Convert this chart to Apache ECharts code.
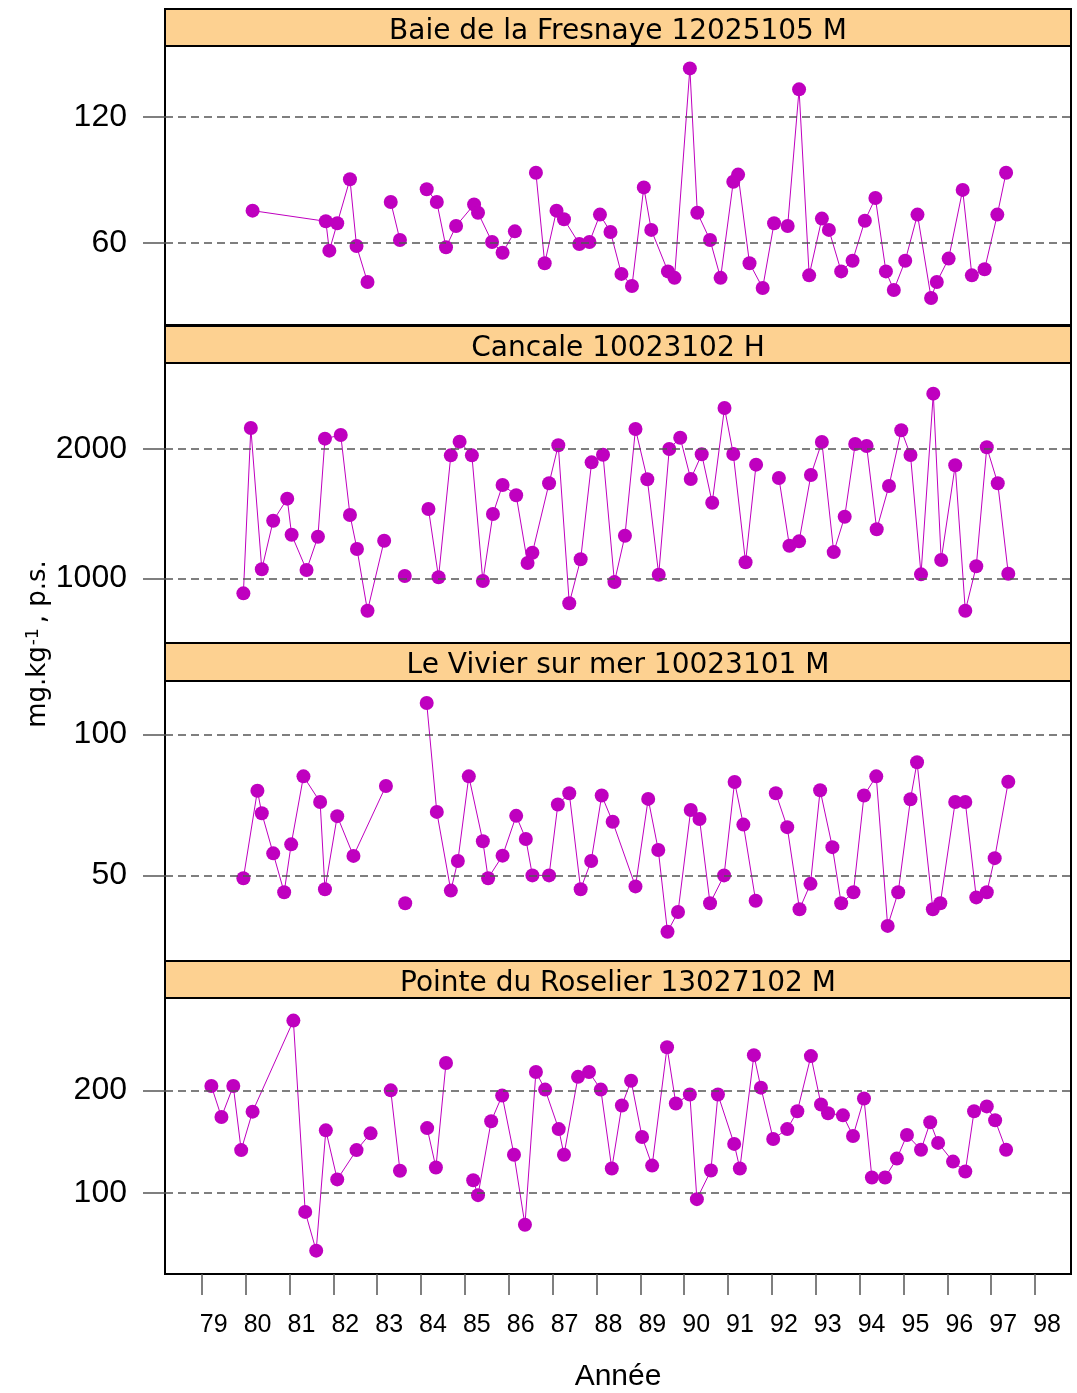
<!DOCTYPE html>
<html><head><meta charset="utf-8">
<script src="https://cdn.jsdelivr.net/npm/echarts@6/dist/echarts.min.js"></script>
<style>html,body{margin:0;padding:0;background:#fff}#c{width:1077px;height:1393px}</style>
</head><body><div id="c"></div>
<script>
// ---------------- data ----------------
const panelTitles = ['Baie de la Fresnaye 12025105 M', 'Cancale 10023102 H', 'Le Vivier sur mer 10023101 M', 'Pointe du Roselier 13027102 M'];
const xTickLabels = [79, 80, 81, 82, 83, 84, 85, 86, 87, 88, 89, 90, 91, 92, 93, 94, 95, 96, 97, 98];
const yTicks1 = [60, 120];
const yTicks2 = [1000, 2000];
const yTicks3 = [50, 100];
const yTicks4 = [100, 200];

// null = break in the series (missing sampling)
const years1 = [80.16, 81.83, 81.91, 82.09, 82.38, 82.53, 82.78, null, 83.31, 83.52, null, 84.13, 84.36, 84.57, 84.80, 85.21, 85.30, 85.62, 85.86, 86.14, null, 86.62, 86.82, 87.09, 87.26, 87.61, 87.84, 88.08, 88.32, 88.57, 88.81, 89.08, 89.25, 89.63, 89.78, 90.13, 90.30, 90.59, 90.83, 91.12, 91.23, 91.49, 91.79, 92.05, null, 92.36, 92.62, 92.85, 93.14, 93.30, 93.58, 93.84, 94.12, 94.36, 94.60, 94.78, 95.04, 95.32, 95.63, 95.76, 96.03, 96.35, 96.56, 96.85, 97.14, 97.34];
const values1 = [75.3, 70.2, 56.2, 69.3, 90.3, 58.4, 41.2, null, 79.4, 61.3, null, 85.5, 79.4, 57.8, 68.0, 78.2, 74.3, 60.3, 55.2, 65.4, null, 93.4, 50.2, 75.3, 71.2, 59.4, 60.3, 73.4, 65.1, 45.1, 39.3, 86.4, 66.1, 46.3, 43.2, 143.2, 74.3, 61.3, 43.2, 89.1, 92.5, 50.2, 38.4, 69.3, null, 68.0, 133.2, 44.4, 71.5, 66.1, 46.3, 51.4, 70.5, 81.3, 46.3, 37.4, 51.4, 73.4, 33.6, 41.2, 52.4, 85.2, 44.4, 47.3, 73.4, 93.4];

const years2 = [79.95, 80.12, 80.37, 80.63, 80.95, 81.05, 81.39, 81.65, 81.81, 82.17, 82.38, 82.54, 82.78, 83.16, null, 83.63, null, 84.17, 84.40, 84.68, 84.88, 85.16, 85.41, 85.64, 85.86, 86.17, 86.43, 86.54, 86.92, 87.13, 87.38, 87.64, 87.89, 88.15, 88.41, 88.65, 88.89, 89.16, 89.42, 89.66, 89.91, 90.15, 90.40, 90.64, 90.92, 91.12, 91.40, 91.64, null, 92.16, 92.40, 92.62, 92.89, 93.14, 93.41, 93.66, 93.90, 94.16, 94.39, 94.67, 94.95, 95.16, 95.40, 95.68, 95.86, 96.18, 96.41, 96.66, 96.90, 97.15, 97.39];
const values2 = [884, 2162, 1070, 1445, 1616, 1337, 1064, 1322, 2080, 2108, 1490, 1227, 749, 1291, null, 1018, null, 1536, 1008, 1951, 2057, 1951, 979, 1497, 1722, 1642, 1118, 1198, 1735, 2029, 807, 1147, 1897, 1956, 971, 1329, 2155, 1766, 1028, 2000, 2087, 1768, 1959, 1585, 2317, 1961, 1124, 1879, null, 1776, 1252, 1286, 1799, 2054, 1203, 1476, 2039, 2023, 1379, 1714, 2145, 1954, 1031, 2428, 1142, 1874, 749, 1093, 2013, 1735, 1036];

const years3 = [79.95, 80.27, 80.37, 80.63, 80.88, 81.04, 81.32, 81.70, 81.81, 82.09, 82.46, 83.20, null, 83.64, null, 84.13, 84.36, 84.68, 84.84, 85.09, 85.41, 85.53, 85.86, 86.17, 86.39, 86.54, 86.92, 87.12, 87.38, 87.64, 87.88, 88.12, 88.37, 88.89, 89.18, 89.41, 89.62, 89.86, 90.15, 90.35, 90.59, 90.91, 91.15, 91.35, 91.63, null, 92.09, 92.35, 92.63, 92.88, 93.10, 93.38, 93.58, 93.86, 94.10, 94.38, 94.64, 94.88, 95.16, 95.31, 95.67, 95.84, 96.18, 96.41, 96.66, 96.90, 97.08, 97.39];
const values3 = [49.1, 80.1, 72.1, 57.9, 44.1, 61.1, 85.2, 76.1, 45.2, 71.1, 57.0, 81.8, null, 40.2, null, 111.2, 72.6, 44.7, 55.2, 85.2, 62.2, 49.1, 57.1, 71.2, 63.0, 50.1, 50.1, 75.2, 79.2, 45.2, 55.2, 78.4, 69.1, 46.2, 77.2, 59.1, 30.1, 37.1, 73.3, 70.1, 40.2, 50.1, 83.2, 68.1, 41.1, null, 79.2, 67.2, 38.1, 47.1, 80.3, 60.1, 40.2, 44.1, 78.4, 85.2, 32.2, 44.1, 77.1, 90.2, 38.1, 40.2, 76.1, 76.1, 42.3, 44.1, 56.2, 83.3];

const years4 = [79.22, 79.45, 79.72, 79.90, 80.16, 81.09, 81.36, 81.61, 81.83, 82.09, 82.53, 82.85, null, 83.31, 83.52, null, 84.14, 84.34, 84.57, null, 85.19, 85.30, 85.60, 85.85, 86.12, 86.37, 86.62, 86.83, 87.14, 87.26, 87.58, 87.83, 88.10, 88.35, 88.58, 88.79, 89.04, 89.27, 89.61, 89.81, 90.13, 90.29, 90.61, 90.77, 91.14, 91.27, 91.59, 91.75, 92.03, 92.35, 92.58, 92.89, 93.12, 93.28, 93.62, 93.85, 94.10, 94.28, 94.58, 94.85, 95.08, 95.40, 95.61, 95.79, 96.13, 96.41, 96.61, 96.90, 97.09, 97.34];
const values4 = [204.2, 174.1, 204.2, 141.9, 179.3, 267.8, 81.8, 44.1, 161.1, 113.4, 141.9, 158.2, null, 200.0, 121.8, null, 163.3, 124.9, 226.6, null, 112.5, 98.1, 170.0, 194.9, 137.4, 69.3, 217.9, 200.7, 162.3, 137.4, 213.1, 217.9, 200.7, 124.0, 185.3, 209.3, 154.7, 126.8, 241.9, 187.2, 195.9, 94.2, 122.1, 195.9, 147.9, 124.0, 234.2, 202.6, 152.7, 162.3, 179.6, 233.3, 186.3, 177.7, 175.7, 155.6, 192.0, 115.3, 115.3, 133.6, 156.6, 142.2, 169.0, 148.9, 130.7, 121.1, 179.6, 184.4, 170.9, 142.2];

// ---------------- layout ----------------
const PLOT_LEFT = 165, PLOT_RIGHT = 1071;
const panels = [
  { years: years1, values: values1, ticks: yTicks1, strip: [9, 46],    plot: [46, 325],   ymin: 20.7,  ymax: 153.9 },
  { years: years2, values: values2, ticks: yTicks2, strip: [326, 363], plot: [363, 643],  ymin: 500,   ymax: 2665 },
  { years: years3, values: values3, ticks: yTicks3, strip: [643, 681], plot: [681, 961],  ymin: 19.75, ymax: 119.0 },
  { years: years4, values: values4, ticks: yTicks4, strip: [961, 998], plot: [998, 1278], ymin: 21.4,  ymax: 289.8 }
];
const XMIN = 78.163, XMAX = 98.82;
const PURPLE = '#BF00BF';
const NUM_FONT = 'Liberation Sans, Arial, sans-serif';
const STRIP_FONT = 'DejaVu Sans, sans-serif';

const grid = [], xAxis = [], yAxis = [], series = [], graphic = [];
panels.forEach((p, i) => {
  const last = i === panels.length - 1;
  grid.push({
    left: PLOT_LEFT, width: PLOT_RIGHT - PLOT_LEFT, top: p.plot[0], height: p.plot[1] - p.plot[0],
    show: true, borderColor: '#000', borderWidth: 2, backgroundColor: '#fff'
  });
  xAxis.push({
    type: 'value', gridIndex: i, min: XMIN, max: XMAX,
    axisLine: { show: false }, splitLine: { show: false },
    axisTick: { show: last, customValues: xTickLabels, length: 21, lineStyle: { color: '#555', width: 1.5 } },
    axisLabel: { show: last, customValues: xTickLabels, margin: 39, fontSize: 25, color: '#000',
      fontFamily: NUM_FONT, padding: [0, 0, 0, 24], formatter: v => String(v) },
    name: last ? 'Année' : '', nameLocation: 'middle', nameGap: 88,
    nameTextStyle: { fontSize: 30, color: '#000', fontFamily: NUM_FONT }
  });
  yAxis.push({
    type: 'value', gridIndex: i, min: p.ymin, max: p.ymax,
    axisLine: { show: false }, splitLine: { show: false },
    axisTick: { show: true, customValues: p.ticks, length: 22, lineStyle: { color: '#555', width: 1.5 } },
    axisLabel: { show: true, customValues: p.ticks, margin: 38, fontSize: 32, color: '#000', fontFamily: NUM_FONT,
      padding: [8, 0, 0, 0], formatter: v => String(v) }
  });
  // dashed reference lines at the tick values
  series.push({
    type: 'line', xAxisIndex: i, yAxisIndex: i, data: [], z: 1, silent: true,
    markLine: {
      silent: true, symbol: ['none', 'none'], label: { show: false }, animation: false,
      lineStyle: { type: [8, 5], color: '#555', width: 1.5 },
      data: p.ticks.map(v => ({ yAxis: v }))
    }
  });
  series.push({
    type: 'line', xAxisIndex: i, yAxisIndex: i, z: 3,
    data: p.years.map((x, k) => (x == null || p.values[k] == null) ? ['-', '-'] : [x, p.values[k]]),
    connectNulls: false, showAllSymbol: true,
    symbol: 'circle', symbolSize: 14,
    itemStyle: { color: PURPLE, borderWidth: 0 },
    lineStyle: { color: PURPLE, width: 1 },
    emphasis: { disabled: true }
  });
  // strip
  graphic.push({
    type: 'rect', z: 10,
    shape: { x: PLOT_LEFT, y: p.strip[0], width: PLOT_RIGHT - PLOT_LEFT, height: p.strip[1] - p.strip[0] },
    style: { fill: '#FDD191', stroke: '#000', lineWidth: 2 }
  });
  graphic.push({
    type: 'text', z: 11,
    x: (PLOT_LEFT + PLOT_RIGHT) / 2, y: (p.strip[0] + p.strip[1]) / 2 + 4,
    style: { text: panelTitles[i], fontSize: 28, fontFamily: STRIP_FONT, fill: '#000',
      align: 'center', verticalAlign: 'middle' }
  });
});
graphic.push({
  type: 'text', z: 11, x: 38, y: 644, rotation: Math.PI / 2,
  style: {
    text: '{a|mg.kg}{s|-1}{a|, p.s.}', align: 'center', verticalAlign: 'middle',
    rich: {
      a: { fontSize: 26, fontFamily: STRIP_FONT, fill: '#000' },
      s: { fontSize: 17, fontFamily: STRIP_FONT, fill: '#000', verticalAlign: 'top', padding: [0, 5, 0, 1] }
    }
  }
});

const chart = echarts.init(document.getElementById('c'), null, { renderer: 'canvas' });
chart.setOption({
  animation: false,
  backgroundColor: '#fff',
  grid, xAxis, yAxis, series, graphic
});
</script></body></html>
